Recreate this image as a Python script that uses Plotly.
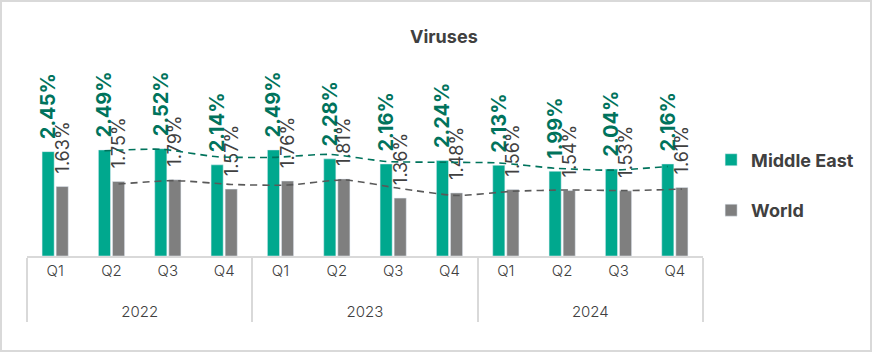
import plotly.graph_objects as go

years = ["2022"] * 4 + ["2023"] * 4 + ["2024"] * 4
quarters = ["Q1", "Q2", "Q3", "Q4"] * 3

middle_east = [2.45, 2.49, 2.52, 2.14, 2.49, 2.28, 2.16, 2.24, 2.13, 1.99, 2.04, 2.16]
world = [1.63, 1.75, 1.79, 1.57, 1.76, 1.81, 1.36, 1.48, 1.56, 1.54, 1.53, 1.61]

# dashed trend lines (2-period moving average)
middle_east_trend = [None, 2.47, 2.505, 2.33, 2.315, 2.385, 2.22, 2.20, 2.185, 2.06, 2.015, 2.10]
world_trend = [None, 1.69, 1.77, 1.68, 1.665, 1.785, 1.585, 1.42, 1.52, 1.55, 1.535, 1.57]

GREEN = "#00A88E"
GREEN_DARK = "#00735C"
GRAY = "#7F7F7F"
TEXT = "#404040"
FONT = "Inter"

x = [["<br>" + y for y in years], quarters]
pad = "\u00a0\u00a0"

fig = go.Figure()
fig.add_trace(go.Bar(
    x=x, y=middle_east, name="Middle East", marker_color=GREEN,
    text=[f"{pad}{v:.2f}%" for v in middle_east], textposition="outside",
    textangle=-90, cliponaxis=False, constraintext="none",
    textfont=dict(family=FONT, size=20, color=GREEN_DARK, weight="bold"),
    offsetgroup="me", legendgroup="me", hoverinfo="skip",
))
fig.add_trace(go.Bar(
    x=x, y=world, name="World", marker_color=GRAY,
    text=[f"{pad}{v:.2f}%" for v in world], textposition="outside",
    textangle=-90, cliponaxis=False, constraintext="none",
    textfont=dict(family=FONT, size=18, color=TEXT),
    offsetgroup="w", legendgroup="w", hoverinfo="skip",
))
fig.add_trace(go.Scatter(
    x=x, y=middle_east_trend, mode="lines", showlegend=False,
    line=dict(color=GREEN_DARK, width=1.6, dash="7px,5px", shape="spline", smoothing=0.6),
    offsetgroup="me", hoverinfo="skip", cliponaxis=False,
))
fig.add_trace(go.Scatter(
    x=x, y=world_trend, mode="lines", showlegend=False,
    line=dict(color="#595959", width=1.6, dash="7px,5px", shape="spline", smoothing=0.6),
    offsetgroup="w", hoverinfo="skip", cliponaxis=False,
))

L, R, T, B = 27, 169, 60, 96
W, H = 872, 352
pw, ph = W - L - R, H - T - B

fig.update_layout(
    width=W, height=H,
    margin=dict(l=L, r=R, t=T, b=B, autoexpand=False),
    paper_bgcolor="white", plot_bgcolor="white",
    barmode="group", bargap=0.5, bargroupgap=0.14,
    scattermode="group", scattergap=0.5,
    font=dict(family=FONT, color=TEXT),
    title=dict(text="<b>Viruses</b>", x=0.509, xanchor="center", y=0.895, yanchor="middle",
               font=dict(family=FONT, size=18, color=TEXT)),
    showlegend=True,
    legend=dict(x=1.012, xanchor="left", y=0.362, yanchor="middle",
                font=dict(family=FONT, size=18, color=TEXT, weight="bold"),
                traceorder="grouped", tracegroupgap=24, itemwidth=30,
                bgcolor="rgba(0,0,0,0)"),
    xaxis=dict(type="multicategory", showline=True, linecolor="#D9D9D9", linewidth=2,
               showgrid=False, ticks="", showdividers=True, dividercolor="#D9D9D9",
               dividerwidth=2, tickfont=dict(family=FONT, size=15, color=TEXT, weight=300)),
    yaxis=dict(range=[0, ph / 42.6], visible=False, showgrid=False, zeroline=False),
    shapes=[dict(type="rect", xref="paper", yref="paper",
                 x0=(1 - L) / pw, x1=(W - 1 - L) / pw,
                 y0=(H - B - (H - 1)) / ph, y1=(H - B - 1) / ph,
                 line=dict(color="#D9D9D9", width=2), fillcolor="rgba(0,0,0,0)")],
)

fig.write_html("out.html")
